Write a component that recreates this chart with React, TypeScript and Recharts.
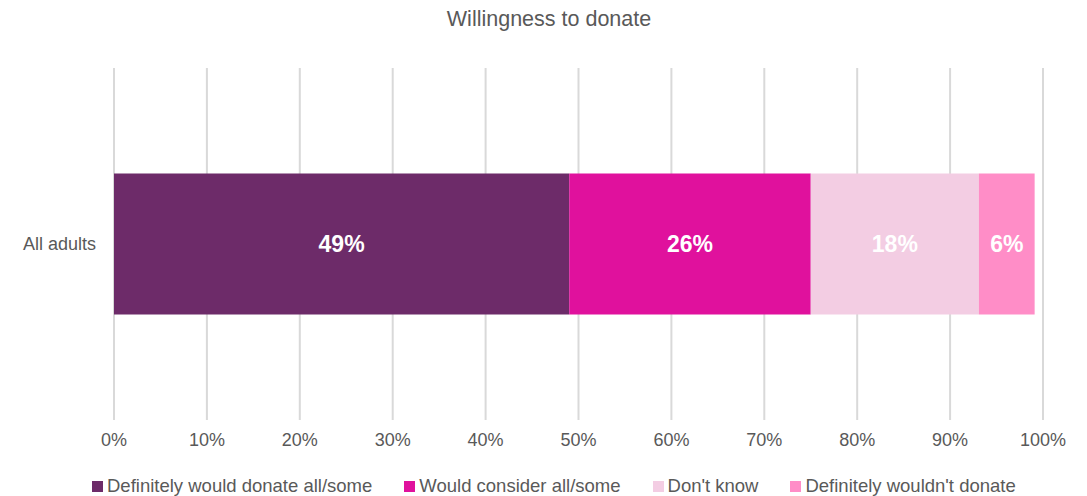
import React from "react";
import { BarChart, Bar, XAxis, YAxis, CartesianGrid, LabelList } from "recharts";

const categories = ["All adults"];
const definitelyWould = [49.0];
const wouldConsider = [26.0];
const dontKnow = [18.1];
const definitelyWouldnt = [6.0];
const xTicks = [0, 10, 20, 30, 40, 50, 60, 70, 80, 90, 100];

const series = [
  { key: "definitelyWould", name: "Definitely would donate all/some", color: "#6D2B69" },
  { key: "wouldConsider", name: "Would consider all/some", color: "#E0119D" },
  { key: "dontKnow", name: "Don't know", color: "#F3CDE3" },
  { key: "definitelyWouldnt", name: "Definitely wouldn't donate", color: "#FF8DC7" },
];

const data = categories.map((c, i) => ({
  category: c,
  definitelyWould: definitelyWould[i],
  wouldConsider: wouldConsider[i],
  dontKnow: dontKnow[i],
  definitelyWouldnt: definitelyWouldnt[i],
}));

const FONT = "'Liberation Sans', Arial, sans-serif";
const TEXT = "#595959";

export default function App() {
  return (
    <div style={{ position: "fixed", left: 0, top: 0, width: 1087, height: 496, overflow: "hidden", background: "#fff", fontFamily: FONT }}>
      <div style={{ position: "absolute", top: 7, left: 0, width: 1098, textAlign: "center", fontSize: 21.5, color: TEXT }}>
        Willingness to donate
      </div>
      <BarChart
        width={1087}
        height={496}
        data={data}
        layout="vertical"
        margin={{ top: 68, right: 44, bottom: 36, left: 0 }}
        barCategoryGap="30%"
      >
        <CartesianGrid horizontal={false} stroke="#D9D9D9" strokeWidth={2} />
        <XAxis
          type="number"
          domain={[0, 100]}
          ticks={xTicks}
          tickFormatter={(v: number) => `${v}%`}
          axisLine={false}
          tickLine={false}
          tick={{ fill: TEXT, fontSize: 18, fontFamily: FONT }}
          tickMargin={7}
          height={40}
          interval={0}
        />
        <YAxis
          type="category"
          dataKey="category"
          width={114}
          axisLine={false}
          tickLine={false}
          tick={{ fill: TEXT, fontSize: 18, fontFamily: FONT }}
          tickMargin={12}
        />
        {series.map((s) => (
          <Bar key={s.key} dataKey={s.key} name={s.name} stackId="a" fill={s.color} isAnimationActive={false}>
            <LabelList
              dataKey={s.key}
              position="center"
              formatter={(v: number) => `${Math.round(v)}%`}
              style={{ fill: "#fff", fontSize: 23, fontWeight: 700, fontFamily: FONT }}
            />
          </Bar>
        ))}
      </BarChart>
      <div style={{ position: "absolute", top: 476, left: 92, display: "flex", gap: 32, fontSize: 18.5, lineHeight: "20px", color: TEXT, whiteSpace: "nowrap" }}>
        {series.map((s) => (
          <div key={s.key} style={{ display: "flex", alignItems: "center" }}>
            <span style={{ display: "inline-block", width: 11, height: 11, background: s.color, marginRight: 4 }} />
            <span>{s.name}</span>
          </div>
        ))}
      </div>
    </div>
  );
}
